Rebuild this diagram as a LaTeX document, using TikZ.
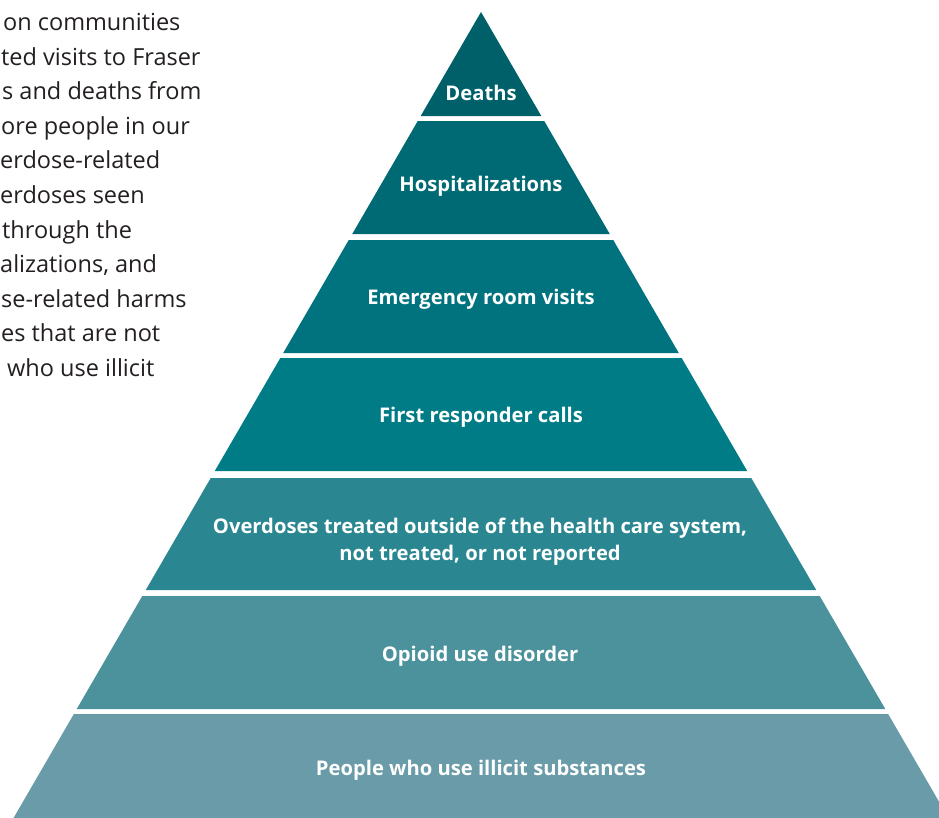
\documentclass[tikz,border=0pt]{standalone}
\usepackage{fontspec}
\setmainfont{Open Sans}
\definecolor{lvA}{HTML}{00606A}
\definecolor{lvB}{HTML}{006A74}
\definecolor{lvC}{HTML}{00737E}
\definecolor{lvD}{HTML}{007C87}
\definecolor{lvE}{HTML}{2A8791}
\definecolor{lvF}{HTML}{4B929C}
\definecolor{lvG}{HTML}{699CA8}
\definecolor{bodyink}{HTML}{231F20}
\begin{document}
\begin{tikzpicture}[x=1pt,y=-1pt,
  lab/.style={text=white,font=\fontsize{20.2}{27}\selectfont\bfseries,align=center,inner sep=0pt},
  bodyline/.style={text=bodyink,font=\fontsize{23.5}{34.6}\selectfont,anchor=base west,inner sep=0pt}]
\useasboundingbox (0,0) rectangle (939,817);
\clip (0,0) rectangle (939,817);
% pyramid bands: one triangle sliced by thin white gaps
\def\apx{481}\def\apy{12}\def\slope{0.58}
\foreach \t/\b/\c in {12/116/lvA,121/234/lvB,240/353/lvC,358/471/lvD,478/590/lvE,596/709/lvF,714/840/lvG}{
  \pgfmathsetmacro\lt{\apx-\slope*(\t-\apy)}
  \pgfmathsetmacro\rt{\apx+\slope*(\t-\apy)}
  \pgfmathsetmacro\lb{\apx-\slope*(\b-\apy)}
  \pgfmathsetmacro\rb{\apx+\slope*(\b-\apy)}
  \fill[\c] (\lt,\t) -- (\rt,\t) -- (\rb,\b) -- (\lb,\b) -- cycle;
}
% band labels
\node[lab,anchor=base] (deaths) at (481,100) {Deaths};
\node[lab,anchor=base] (hosp) at (481,191) {Hospitalizations};
\node[lab,anchor=base] (er) at (481,304) {Emergency room visits};
\node[lab,anchor=base] (first) at (481,422) {First responder calls};
\node[lab] (outside) at (480,542) {Overdoses treated outside of the health care system,\\not treated, or not reported};
\node[lab,anchor=base] (opioid) at (480,661) {Opioid use disorder};
\node[lab,anchor=base] (people) at (481,775) {People who use illicit substances};
% body text running off the left edge
\node[bodyline] (l1) at (3,30.5) {on communities};
\node[bodyline] (l2) at (1,65.1) {ted visits to Fraser};
\node[bodyline] (l3) at (2,99.7) {s and deaths from};
\node[bodyline] (l4) at (1,134.3) {ore people in our};
\node[bodyline] (l5) at (0,168.9) {erdose-related};
\node[bodyline] (l6) at (0,203.5) {erdoses seen};
\node[bodyline] (l7) at (2,238.1) {through the};
\node[bodyline] (l8) at (0,272.7) {alizations, and};
\node[bodyline] (l9) at (1,307.3) {se-related harms};
\node[bodyline] (l10) at (1,341.9) {es that are not};
\node[bodyline] (l11) at (7,376.5) {who use illicit};
\end{tikzpicture}
\end{document}
